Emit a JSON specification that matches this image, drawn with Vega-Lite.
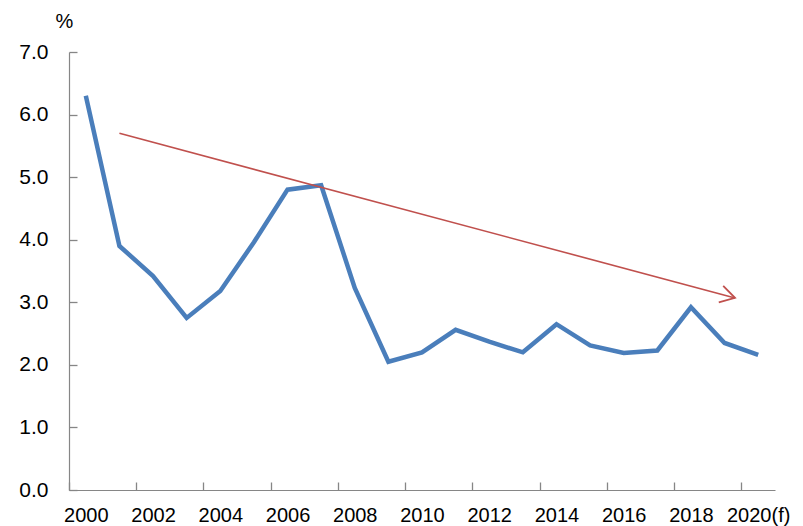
{
  "$schema": "https://vega.github.io/schema/vega-lite/v6.json",
  "width": 706,
  "height": 438,
  "autosize": {"type": "none"},
  "padding": {"left": 69, "top": 52, "right": 28, "bottom": 36},
  "background": "white",
  "datasets": {
    "rate": [
      {"year": 2000, "value": 6.3},
      {"year": 2001, "value": 3.9},
      {"year": 2002, "value": 3.42},
      {"year": 2003, "value": 2.75},
      {"year": 2004, "value": 3.18},
      {"year": 2005, "value": 3.96},
      {"year": 2006, "value": 4.8},
      {"year": 2007, "value": 4.87},
      {"year": 2008, "value": 3.23},
      {"year": 2009, "value": 2.05},
      {"year": 2010, "value": 2.2},
      {"year": 2011, "value": 2.56},
      {"year": 2012, "value": 2.37},
      {"year": 2013, "value": 2.2},
      {"year": 2014, "value": 2.65},
      {"year": 2015, "value": 2.31},
      {"year": 2016, "value": 2.19},
      {"year": 2017, "value": 2.23},
      {"year": 2018, "value": 2.92},
      {"year": 2019, "value": 2.35},
      {"year": 2020, "value": 2.16}
    ],
    "trend": [
      {"year": 2001, "value": 5.7},
      {"year": 2019.31, "value": 3.07}
    ],
    "tip": [
      {"year": 2019.31, "value": 3.07}
    ]
  },
  "layer": [
    {
      "data": {"name": "rate"},
      "mark": {"type": "line", "color": "#4A7EBB", "strokeWidth": 4.5, "strokeJoin": "miter"},
      "encoding": {
        "x": {
          "field": "year",
          "type": "quantitative",
          "scale": {"domain": [1999.5, 2020.5], "nice": false, "zero": false},
          "axis": {
            "title": null,
            "grid": false,
            "values": [1999.5, 2000.5, 2001.5, 2002.5, 2003.5, 2004.5, 2005.5, 2006.5, 2007.5, 2008.5, 2009.5, 2010.5, 2011.5, 2012.5, 2013.5, 2014.5, 2015.5, 2016.5, 2017.5, 2018.5, 2019.5, 2020.5],
            "labelExpr": "(datum.value + 0.5) % 2 == 0 ? (datum.value == 2019.5 ? '2020(f)' : format(datum.value + 0.5, 'd')) : ''",
            "labelOffset": 16.8,
            "labelOverlap": false,
            "labelFlush": false,
            "labelBound": false,
            "tickSize": -8,
            "labelPadding": 23
          }
        },
        "y": {
          "field": "value",
          "type": "quantitative",
          "scale": {"domain": [0, 7], "nice": false},
          "axis": {
            "title": "%",
            "titleAngle": 0,
            "titleX": -5,
            "titleY": -31,
            "titleAlign": "center",
            "titleBaseline": "middle",
            "titleFontSize": 20,
            "titleFontWeight": "normal",
            "titleColor": "#000000",
            "titleFont": "Liberation Sans",
            "grid": false,
            "values": [0, 1, 2, 3, 4, 5, 6, 7],
            "format": ".1f",
            "tickSize": -8,
            "labelPadding": 29,
            "labelFontSize": 21
          }
        }
      }
    },
    {
      "data": {"name": "trend"},
      "mark": {"type": "line", "color": "#C0504D", "strokeWidth": 1.6},
      "encoding": {
        "x": {"field": "year", "type": "quantitative"},
        "y": {"field": "value", "type": "quantitative"}
      }
    },
    {
      "data": {"name": "tip"},
      "mark": {
        "type": "point",
        "shape": "M -1 -0.59 L 0 0 L -1 0.59",
        "filled": false,
        "stroke": "#C0504D",
        "strokeWidth": 1.8,
        "size": 841,
        "angle": 15,
        "opacity": 1
      },
      "encoding": {
        "x": {"field": "year", "type": "quantitative"},
        "y": {"field": "value", "type": "quantitative"}
      }
    }
  ],
  "config": {
    "view": {"stroke": null},
    "axis": {
      "labelFont": "Liberation Sans",
      "labelFontSize": 20,
      "labelColor": "#000000",
      "domainColor": "#868686",
      "tickColor": "#868686",
      "domainWidth": 1.2,
      "tickWidth": 1.3
    }
  }
}
